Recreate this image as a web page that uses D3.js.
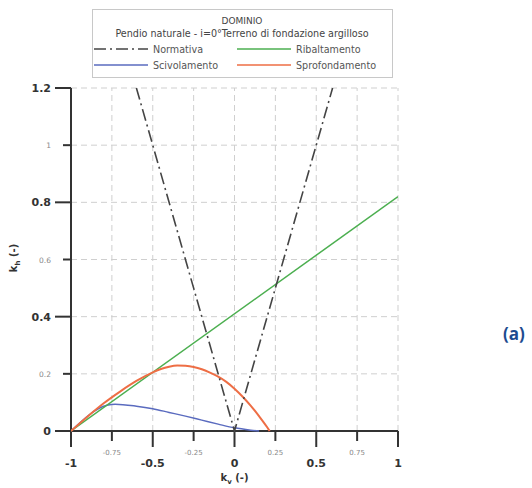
<!DOCTYPE html>
<html><head><meta charset="utf-8">
<script src="https://cdn.jsdelivr.net/npm/d3@7"></script>
<style>body{margin:0;background:#fff;} svg{display:block;font-family:"DejaVu Sans",sans-serif;}</style>
</head><body><svg id="c" width="532" height="488"></svg>
<script>
// Data
const normKv = [-0.6, 0, 0.6];
const normKh = [1.2, 0, 1.2];
const ribKv = [-1, 1];
const ribKh = [0, 0.82];
const sciKv = [-1, -0.78, -0.73, -0.6, -0.5, -0.4, -0.3, -0.2, -0.1, 0, 0.1, 0.15];
const sciKh = [0, 0.09, 0.094, 0.087, 0.078, 0.065, 0.052, 0.038, 0.024, 0.011, 0.003, 0];
const sprKv = [-1, -0.9, -0.8, -0.7, -0.6, -0.5, -0.45, -0.4, -0.35, -0.3, -0.25, -0.2, -0.15, -0.1, -0.05, 0, 0.05, 0.1, 0.15, 0.2, 0.215];
const sprKh = [0, 0.05, 0.097, 0.138, 0.175, 0.205, 0.217, 0.225, 0.229, 0.228, 0.224, 0.216, 0.204, 0.19, 0.172, 0.148, 0.12, 0.088, 0.052, 0.013, 0];
const xMajor = [-1, -0.5, 0, 0.5, 1];
const xMinor = [-0.75, -0.25, 0.25, 0.75];
const yMajor = [0, 0.4, 0.8, 1.2];
const yMinor = [0.2, 0.6, 1];
const legendTitle = "DOMINIO";
const legendSub = "Pendio naturale - i=0°Terreno di fondazione argilloso";
const seriesNames = ["Normativa", "Ribaltamento", "Scivolamento", "Sprofondamento"];

const svg = d3.select("#c");
const x = d3.scaleLinear().domain([-1, 1]).range([71, 398]);
const y = d3.scaleLinear().domain([0, 1.2]).range([431, 88]);
const fmt = d => String(d);

// grid
const g = svg.append("g");
xMinor.concat(xMajor.filter(d => d > -1)).forEach(v => {
  g.append("line").attr("x1", x(v)).attr("x2", x(v)).attr("y1", y(0)).attr("y2", y(1.2))
    .attr("stroke", "#cfcfcf").attr("stroke-width", 1).attr("stroke-dasharray", "6,4");
});
yMinor.concat(yMajor.filter(d => d > 0)).forEach(v => {
  g.append("line").attr("x1", x(-1)).attr("x2", x(1)).attr("y1", y(v)).attr("y2", y(v))
    .attr("stroke", "#cfcfcf").attr("stroke-width", 1).attr("stroke-dasharray", "6,4");
});

// axes
const ax = svg.append("g").attr("stroke", "#333").attr("stroke-width", 2);
ax.append("line").attr("x1", x(-1)).attr("x2", x(-1)).attr("y1", y(1.2)).attr("y2", y(0) + 16);
ax.append("line").attr("x1", x(-1) - 16).attr("x2", x(1)).attr("y1", y(0)).attr("y2", y(0));
xMajor.forEach(v => ax.append("line").attr("x1", x(v)).attr("x2", x(v)).attr("y1", y(0)).attr("y2", y(0) + 16));
xMinor.forEach(v => ax.append("line").attr("x1", x(v)).attr("x2", x(v)).attr("y1", y(0)).attr("y2", y(0) + 10));
yMajor.forEach(v => ax.append("line").attr("x1", x(-1) - 16).attr("x2", x(-1)).attr("y1", y(v)).attr("y2", y(v)));
yMinor.forEach(v => ax.append("line").attr("x1", x(-1) - 8).attr("x2", x(-1)).attr("y1", y(v)).attr("y2", y(v)));

// tick labels
xMajor.forEach(v => svg.append("text").attr("x", x(v)).attr("y", 467).attr("text-anchor", "middle")
  .attr("font-size", 11).attr("font-weight", "bold").attr("fill", "#333").text(fmt(v)));
xMinor.forEach(v => svg.append("text").attr("x", x(v)).attr("y", 455).attr("text-anchor", "middle")
  .attr("font-size", 7).attr("fill", "#888").text(fmt(v)));
yMajor.forEach(v => svg.append("text").attr("x", 51).attr("y", y(v) + 4).attr("text-anchor", "end")
  .attr("font-size", 11).attr("font-weight", "bold").attr("fill", "#333").text(fmt(v)));
yMinor.forEach(v => svg.append("text").attr("x", 51).attr("y", y(v) + 3).attr("text-anchor", "end")
  .attr("font-size", 7.5).attr("fill", "#888").text(fmt(v)));

// axis titles
const xt = svg.append("text").attr("x", x(0)).attr("y", 481).attr("text-anchor", "middle")
  .attr("font-size", 10).attr("font-weight", "bold").attr("fill", "#333");
xt.append("tspan").text("k");
xt.append("tspan").attr("font-size", 7).attr("dy", 3).text("v");
xt.append("tspan").attr("dy", -3).text(" (-)");
const yt = svg.append("text").attr("transform", "translate(17,258) rotate(-90)").attr("text-anchor", "middle")
  .attr("font-size", 10).attr("font-weight", "bold").attr("fill", "#333");
yt.append("tspan").text("k");
yt.append("tspan").attr("font-size", 7).attr("dy", 3).text("h");
yt.append("tspan").attr("dy", -3).text(" (-)");

// series
const line = d3.line().x(d => x(d[0])).y(d => y(d[1]));
const line2 = d3.line().x(d => x(d[0])).y(d => y(d[1])).curve(d3.curveMonotoneX);
svg.append("clipPath").attr("id", "pc").append("rect")
  .attr("x", x(-1)).attr("y", y(1.2)).attr("width", x(1) - x(-1)).attr("height", y(0) - y(1.2) + 2);
const plot = svg.append("g").attr("clip-path", "url(#pc)");
const zip = (a, b) => a.map((v, i) => [v, b[i]]);
plot.append("path").datum(zip(sciKv, sciKh)).attr("d", line2).attr("fill", "none")
  .attr("stroke", "#5a6bbf").attr("stroke-width", 1.5);
plot.append("path").datum(zip(ribKv, ribKh)).attr("d", line).attr("fill", "none")
  .attr("stroke", "#4caf50").attr("stroke-width", 1.5);
plot.append("path").datum(zip(sprKv, sprKh)).attr("d", line2).attr("fill", "none")
  .attr("stroke", "#ee6e45").attr("stroke-width", 2);
plot.append("path").datum(zip(normKv, normKh)).attr("d", line).attr("fill", "none")
  .attr("stroke", "#444").attr("stroke-width", 1.6).attr("stroke-dasharray", "12,4,2,4");

// legend
const lg = svg.append("g");
lg.append("rect").attr("x", 92.5).attr("y", 9.5).attr("width", 300).attr("height", 68)
  .attr("fill", "#fff").attr("stroke", "#c8c8c8").attr("stroke-width", 1);
lg.append("text").attr("x", 242).attr("y", 24).attr("text-anchor", "middle").attr("font-size", 9)
  .attr("fill", "#444").text(legendTitle);
lg.append("text").attr("x", 242).attr("y", 37).attr("text-anchor", "middle").attr("font-size", 9.6)
  .attr("fill", "#444").text(legendSub);
const items = [
  {name: seriesNames[0], x: 94, y: 49, color: "#444", dash: "12,4,2,4"},
  {name: seriesNames[1], x: 237, y: 49, color: "#4caf50", dash: null},
  {name: seriesNames[2], x: 94, y: 65, color: "#5a6bbf", dash: null},
  {name: seriesNames[3], x: 237, y: 65, color: "#ee6e45", dash: null}
];
items.forEach(it => {
  lg.append("line").attr("x1", it.x).attr("x2", it.x + 54).attr("y1", it.y).attr("y2", it.y)
    .attr("stroke", it.color).attr("stroke-width", 1.5).attr("stroke-dasharray", it.dash);
  lg.append("text").attr("x", it.x + 59).attr("y", it.y + 3.5).attr("font-size", 9.6)
    .attr("fill", "#555").text(it.name);
});

// panel label
svg.append("text").attr("x", 503).attr("y", 340).attr("font-family", "'Open Sans',sans-serif")
  .attr("font-size", 17).attr("font-weight", "bold").attr("fill", "#1d4b8f").text("(a)");
</script></body></html>
